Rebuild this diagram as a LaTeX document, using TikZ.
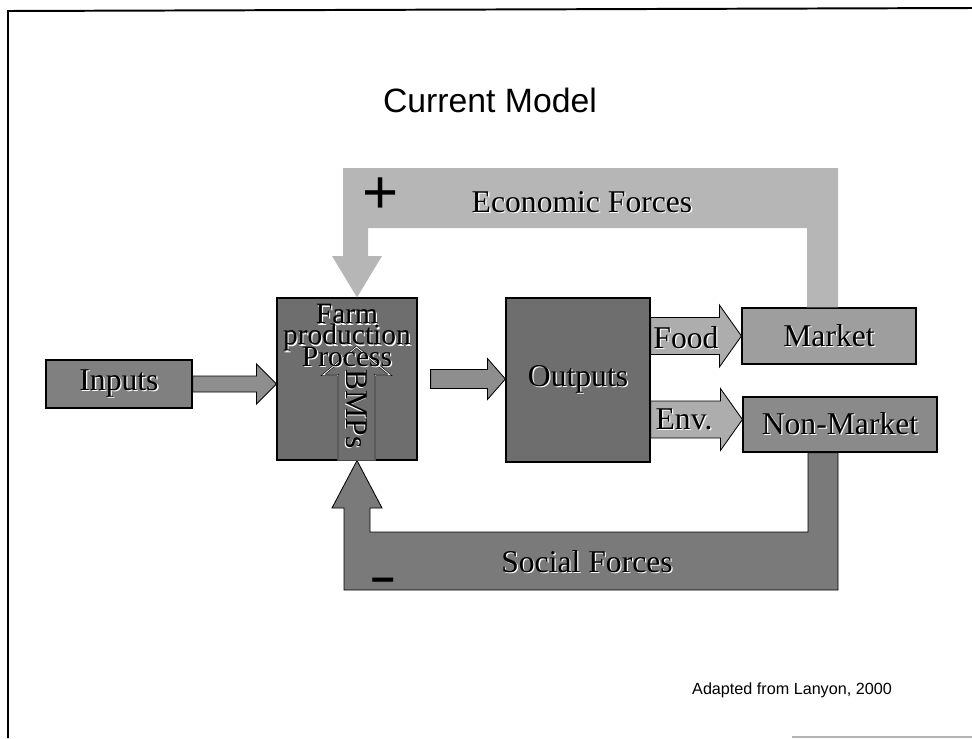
\documentclass[tikz,border=0pt]{standalone}
\usepackage{fontspec}
\setmainfont{Liberation Serif}
\setsansfont{Liberation Sans}
\usetikzlibrary{calc}

\definecolor{econgray}{HTML}{B6B6B6}
\definecolor{socgray}{HTML}{7A7A7A}
\definecolor{boxdark}{HTML}{6E6E6E}
\definecolor{inputgray}{HTML}{808080}
\definecolor{marketgray}{HTML}{9E9E9E}
\definecolor{nonmktgray}{HTML}{8A8A8A}
\definecolor{arrowgray}{HTML}{8E8E8E}
\definecolor{lightarrow}{HTML}{ADADAD}

% black lettering with a light drop shadow
\newcommand{\emb}[1]{\rlap{\hspace{0.04em}\raisebox{-0.04em}{\color{white}#1}}#1}
\newcommand{\tightlines}{\lineskiplimit=-100pt\relax}

\tikzset{
  box/.style={draw=black, line width=0.8pt, inner sep=0pt},
  lbl/.style={font=\fontsize{22.5}{24}\selectfont, inner sep=0pt},
  % #1 half shaft, #2 half head, #3 head length
  blockarrow/.style n args={3}{fill=arrowgray, draw=black, line width=0.6pt,
    to path={($(\tikztostart)+(0,#1)$) -- ($(\tikztotarget)+(-#3,#1)$)
      -- ($(\tikztotarget)+(-#3,#2)$) -- (\tikztotarget)
      -- ($(\tikztotarget)+(-#3,-#2)$) -- ($(\tikztotarget)+(-#3,-#1)$)
      -- ($(\tikztostart)+(0,-#1)$) -- cycle}},
}

\begin{document}
\begin{tikzpicture}[x=0.025cm, y=-0.025cm]
  \useasboundingbox (0,0) rectangle (972,738);

  % slide frame
  \draw[line width=1.4pt] (8,738) -- (8,11) -- (972,8);
  \draw[gray!60, line width=0.8pt] (792,737) -- (972,737);

  \node[font=\sffamily\fontsize{24}{28}\selectfont] (title) at (490,100) {Current Model};

  % boxes
  \node[box, lbl, fill=inputgray, minimum width=3.65cm, minimum height=1.2cm] (inputs) at (119,384) {\emb{Inputs}};
  \node[box, fill=boxdark, minimum width=3.5cm, minimum height=4.05cm] (farm) at (347,379) {};
  \node[box, lbl, fill=boxdark, minimum width=3.6cm, minimum height=4.1cm] (outputs) at (578,380) {\emb{Outputs}};
  \node[box, lbl, fill=marketgray, minimum width=4.35cm, minimum height=1.4cm] (market) at (829,336) {\emb{Market}};
  \node[box, lbl, fill=nonmktgray, minimum width=4.85cm, minimum height=1.375cm] (nonmarket) at (840,424.5) {\emb{Non-Market}};

  % feedback loops
  \fill[econgray] (807,0 |- market.north) -- (807,228) -- (368,228) -- (368,256)
    -- (382,256) -- (357,0 |- farm.north) -- (332,256) -- (343,256) -- (343,168)
    -- (838,168) -- (838,0 |- market.north) -- cycle;
  \filldraw[fill=socgray, draw=black, line width=0.6pt] (808,0 |- nonmarket.south) -- (808,532)
    -- (370,532) -- (370,508) -- (382,508) -- (357,0 |- farm.south) -- (332,508)
    -- (344,508) -- (344,590) -- (838,590) -- (838,0 |- nonmarket.south) -- cycle;

  \node[lbl] (econ) at (582,203) {\emb{Economic Forces}};
  \node[lbl] (social) at (587,562) {\emb{Social Forces}};
  \node[font=\sffamily\fontsize{44}{44}\selectfont, inner sep=0pt] (plus) at (381,196) {+};
  \node[font=\sffamily\bfseries\fontsize{30}{30}\selectfont, inner sep=0pt] (minus) at (383,585) {–};

  % flow arrows
  \path[blockarrow={8}{20}{20}] (inputs.east) to (inputs.east -| farm.west);
  \path[blockarrow={9.5}{20.5}{18}] ([xshift=0.325cm]farm.east) to (farm.east -| outputs.west);
  \path[blockarrow={18.5}{31}{22}, fill=lightarrow] (outputs.east |- market.west) to (market.west);
  \path[blockarrow={18.5}{31}{22}, fill=lightarrow] ([yshift=0.125cm]outputs.east |- nonmarket.west)
    to ([yshift=0.125cm]nonmarket.west);
  \node[lbl] (food) at (686,338) {\emb{Food}};
  \node[lbl] (env) at (684,420) {\emb{Env.}};

  % BMPs arrow inside the farm box
  \draw[fill=boxdark, draw=black, double=white, double distance=0.6pt, line width=0.4pt]
    (338,0 |- farm.south) -- (338,375) -- (323,375) -- (356.5,347) -- (390,375)
    -- (375,375) -- (375,0 |- farm.south);
  \node[lbl, rotate=-90] (bmps) at (356,409) {\emb{BMPs}};
  \node[lbl, align=center, font=\fontsize{21}{15}\selectfont\tightlines] (farmtext) at (347,336)
    {\emb{Farm}\\\emb{production}\\\emb{Process}};

  \node[font=\sffamily\fontsize{11.5}{14}\selectfont] (source) at (792,690) {Adapted from Lanyon, 2000};
\end{tikzpicture}
\end{document}
